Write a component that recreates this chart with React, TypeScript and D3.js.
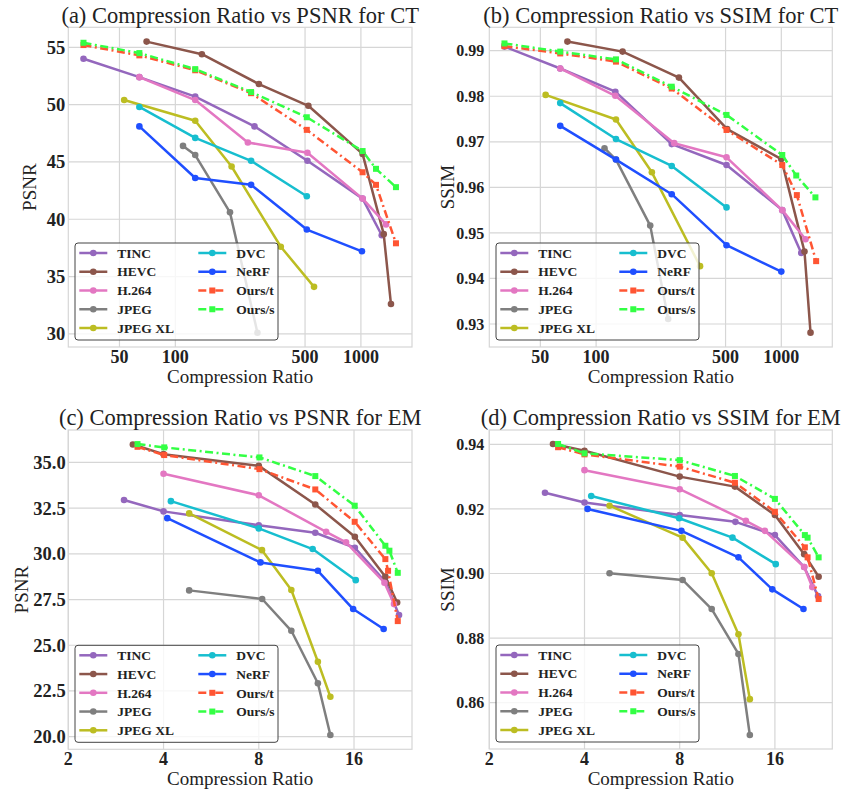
import React from "react";
import * as d3 from "d3";

type Pt = [number, number];

const METHODS = ["TINC", "HEVC", "H.264", "JPEG", "JPEG XL", "DVC", "NeRF", "Ours/t", "Ours/s"];
const COLORS = ["#9467bd", "#8c564b", "#e377c2", "#7f7f7f", "#bcbd22", "#17becf", "#1f4fff", "#ff5533", "#33ff44"];
const OURS = [false, false, false, false, false, false, false, true, true];

// (a) CT: compression ratio vs PSNR
const ctPsnr: Pt[][] = [
  [[32, 54.0], [64, 52.4], [128, 50.7], [267, 48.1], [515, 45.1], [1021, 41.8], [1295, 38.6]],
  [[70, 55.5], [139, 54.4], [282, 51.8], [521, 49.9], [1021, 45.7], [1327, 38.7], [1452, 32.6]],
  [[64, 52.4], [128, 50.4], [246, 46.7], [515, 45.8], [1021, 41.8], [1366, 39.55]],
  [[110, 46.4], [128, 45.6], [197, 40.6], [277, 30.1]],
  [[53, 50.4], [128, 48.6], [201, 44.6], [370, 37.6], [559, 34.1]],
  [[64, 49.8], [128, 47.1], [256, 45.1], [511, 42.0]],
  [[64, 48.1], [128, 43.6], [256, 43.0], [511, 39.1], [1013, 37.2]],
  [[32, 55.2], [64, 54.3], [128, 53.0], [256, 51.0], [511, 47.8], [1021, 44.1], [1206, 43.0], [1545, 37.9]],
  [[32, 55.4], [64, 54.5], [128, 53.1], [256, 51.1], [511, 48.9], [1021, 45.95], [1206, 44.4], [1545, 42.8]],
];

// (b) CT: compression ratio vs SSIM
const ctSsim: Pt[][] = [
  [[32, 0.9909], [64, 0.9861], [127, 0.981], [256, 0.9695], [506, 0.9649], [1012, 0.955], [1281, 0.9456]],
  [[70, 0.992], [139, 0.9898], [280, 0.9841], [510, 0.9728], [1000, 0.9662], [1334, 0.9459], [1438, 0.9281]],
  [[64, 0.9861], [127, 0.9801], [264, 0.9697], [506, 0.9666], [1012, 0.955], [1351, 0.9486]],
  [[111, 0.9686], [128, 0.9661], [196, 0.9516], [245, 0.9311]],
  [[53.4, 0.9803], [128, 0.9749], [200, 0.9633], [364, 0.9427]],
  [[64, 0.9785], [128, 0.9706], [256, 0.9647], [506, 0.9556]],
  [[64, 0.9735], [128, 0.9661], [256, 0.9585], [506, 0.9473], [1000, 0.9415]],
  [[32, 0.991], [64, 0.9894], [128, 0.9876], [256, 0.9817], [506, 0.9726], [1012, 0.9649], [1213, 0.9583], [1542, 0.9438]],
  [[32, 0.9916], [64, 0.9898], [128, 0.9881], [256, 0.9821], [506, 0.9759], [1012, 0.9671], [1204, 0.9626], [1528, 0.9578]],
];

// (c) EM: compression ratio vs PSNR
const emPsnr: Pt[][] = [
  [[3.0, 32.94], [4.0, 32.32], [8.0, 31.56], [12.07, 31.15], [16.1, 30.33], [20.1, 28.47], [22.2, 26.65]],
  [[3.2, 35.98], [4.0, 35.45], [8.0, 34.81], [12.07, 32.7], [16.1, 30.93], [20.1, 28.75], [21.9, 27.34]],
  [[4.0, 34.38], [8.0, 33.2], [13.06, 31.2], [15.1, 30.63], [19.97, 28.42], [21.4, 27.25]],
  [[4.82, 28.0], [8.2, 27.53], [10.14, 25.79], [12.3, 22.92], [13.47, 20.09]],
  [[4.82, 32.21], [8.19, 30.2], [10.14, 28.02], [12.3, 24.1], [13.47, 22.18]],
  [[4.22, 32.88], [8.0, 31.39], [11.84, 30.26], [16.2, 28.56]],
  [[4.11, 31.95], [8.1, 29.53], [12.3, 29.07], [15.9, 26.98], [19.85, 25.89]],
  [[3.31, 35.85], [4.02, 35.4], [8.04, 34.63], [12.07, 33.52], [16.08, 31.75], [20.1, 29.71], [20.5, 29.07], [22.0, 26.32]],
  [[3.31, 36.0], [4.02, 35.82], [8.04, 35.27], [12.07, 34.25], [16.08, 32.63], [20.1, 30.44], [20.7, 30.17], [22.0, 28.96]],
];

// (d) EM: compression ratio vs SSIM
const emSsim: Pt[][] = [
  [[3.0, 0.925], [4.0, 0.922], [8.0, 0.9181], [12.0, 0.916], [16.0, 0.9119], [19.8, 0.902], [21.9, 0.893]],
  [[3.18, 0.9401], [4.0, 0.938], [8.0, 0.93], [11.96, 0.9269], [16.0, 0.9181], [19.8, 0.906], [22.0, 0.899]],
  [[4.0, 0.932], [8.0, 0.9261], [12.95, 0.9163], [14.87, 0.9132], [19.8, 0.902], [21.0, 0.8958]],
  [[4.8, 0.9001], [8.17, 0.898], [10.1, 0.889], [12.27, 0.8751], [13.33, 0.85]],
  [[4.8, 0.921], [8.17, 0.9111], [10.1, 0.9001], [12.27, 0.8812], [13.33, 0.8611]],
  [[4.2, 0.924], [7.97, 0.9171], [11.75, 0.9111], [16.1, 0.9029]],
  [[4.09, 0.92], [8.1, 0.9132], [12.27, 0.905], [15.7, 0.8951], [19.7, 0.889]],
  [[3.3, 0.9391], [4.0, 0.9369], [8.0, 0.9331], [11.96, 0.9281], [16.0, 0.9191], [19.9, 0.9081], [20.3, 0.905], [22.0, 0.8921]],
  [[3.3, 0.9401], [4.0, 0.9372], [8.0, 0.9351], [11.96, 0.9302], [16.0, 0.9231], [19.9, 0.9119], [20.3, 0.9111], [22.0, 0.905]],
];

const ctXTicks = [50, 100, 500, 1000];
const emXTicks = [2, 4, 8, 16];
const ctPsnrTicks = [30, 35, 40, 45, 50, 55];
const ctSsimTicks = [0.93, 0.94, 0.95, 0.96, 0.97, 0.98, 0.99];
const emPsnrTicks = [20, 22.5, 25, 27.5, 30, 32.5, 35];
const emSsimTicks = [0.86, 0.88, 0.9, 0.92, 0.94];

const TITLES = [
  "(a) Compression Ratio vs PSNR for CT",
  "(b) Compression Ratio vs SSIM for CT",
  "(c) Compression Ratio vs PSNR for EM",
  "(d) Compression Ratio vs SSIM for EM",
];

const FONT = "'Liberation Serif', 'Times New Roman', serif";
const TXT = "#222222";
const GRID = "#d6d6d6";

interface PanelProps {
  data: Pt[][];
  title: string;
  ylabel: string;
  xTicks: number[];
  yTicks: number[];
  yFmt: (v: number) => string;
  base: number;
  xDomain: [number, number];
  yDomain: [number, number];
  x0: number;
  x1: number;
  y0: number;
  y1: number;
  yTickFont: number;
  yTickGap: number;
  yLabelOff: number;
}

function Marker({ x, y, color, ours }: { x: number; y: number; color: string; ours: boolean }) {
  if (ours) return <rect x={x - 3} y={y - 3} width={6} height={6} fill={color} />;
  return <circle cx={x} cy={y} r={3.3} fill={color} />;
}

function Panel(p: PanelProps) {
  const xs = d3.scaleLog().base(p.base).domain(p.xDomain).range([p.x0, p.x1]);
  const ys = d3.scaleLinear().domain(p.yDomain).range([p.y1, p.y0]);
  const line = d3
    .line<Pt>()
    .x((d) => xs(d[0]))
    .y((d) => ys(d[1]));
  const cx = (p.x0 + p.x1) / 2;
  const cy = (p.y0 + p.y1) / 2;
  const lx = p.x0 + 6.7;
  const ly = p.y1 - 7 - 97;
  const dash = "8,3.5,2,3.5";
  return (
    <g>
      {p.xTicks.map((t) => (
        <line key={"gx" + t} x1={xs(t)} x2={xs(t)} y1={p.y0} y2={p.y1} stroke={GRID} strokeWidth={1.2} />
      ))}
      {p.yTicks.map((t) => (
        <line key={"gy" + t} x1={p.x0} x2={p.x1} y1={ys(t)} y2={ys(t)} stroke={GRID} strokeWidth={1.2} />
      ))}
      <rect x={p.x0} y={p.y0} width={p.x1 - p.x0} height={p.y1 - p.y0} fill="none" stroke={GRID} strokeWidth={1.2} />
      {p.data.map((s, i) => (
        <g key={"s" + i}>
          <path
            d={line(s) || ""}
            fill="none"
            stroke={COLORS[i]}
            strokeWidth={2.5}
            strokeDasharray={OURS[i] ? dash : undefined}
            strokeLinejoin="round"
          />
          {s.map((d, j) => (
            <Marker key={j} x={xs(d[0])} y={ys(d[1])} color={COLORS[i]} ours={OURS[i]} />
          ))}
        </g>
      ))}
      {p.xTicks.map((t) => (
        <text key={"tx" + t} x={xs(t)} y={p.y1 + 15.5} textAnchor="middle" fontFamily={FONT} fontWeight="bold" fontSize={18} fill={TXT}>
          {String(t)}
        </text>
      ))}
      {p.yTicks.map((t) => (
        <text key={"ty" + t} x={p.x0 - p.yTickGap} y={ys(t)} dy="0.35em" textAnchor="end" fontFamily={FONT} fontWeight="bold" fontSize={p.yTickFont} fill={TXT}>
          {p.yFmt(t)}
        </text>
      ))}
      <text x={cx} y={p.y1 + 35.5} textAnchor="middle" fontFamily={FONT} fontSize={19} fill={TXT}>
        Compression Ratio
      </text>
      <text
        transform={`translate(${p.x0 - p.yLabelOff},${cy}) rotate(-90)`}
        textAnchor="middle"
        fontFamily={FONT}
        fontSize={19}
        fill={TXT}
      >
        {p.ylabel}
      </text>
      <text x={cx} y={p.y0 - 4.7} textAnchor="middle" fontFamily={FONT} fontSize={22.5} fill={TXT}>
        {p.title}
      </text>
      <g transform={`translate(${lx},${ly})`}>
        <rect x={0} y={0} width={203} height={97} rx={3} fill="white" fillOpacity={0.8} stroke="#444" strokeWidth={1} />
        {METHODS.map((m, i) => {
          const col = i < 5 ? 0 : 1;
          const row = i < 5 ? i : i - 5;
          const hx = col === 0 ? 4.3 : 123.3;
          const yy = 10 + row * 18.75;
          return (
            <g key={"l" + i}>
              <line
                x1={hx}
                x2={hx + 28}
                y1={yy}
                y2={yy}
                stroke={COLORS[i]}
                strokeWidth={2.5}
                strokeDasharray={OURS[i] ? dash : undefined}
              />
              <Marker x={hx + 14} y={yy} color={COLORS[i]} ours={OURS[i]} />
              <text x={hx + 38} y={yy} dy="0.35em" fontFamily={FONT} fontWeight="bold" fontSize={13.5} fill={TXT}>
                {m}
              </text>
            </g>
          );
        })}
      </g>
    </g>
  );
}

export default function App() {
  const f0 = (v: number) => String(v);
  const f2 = (v: number) => v.toFixed(2);
  const f1 = (v: number) => v.toFixed(1);
  return (
    <svg width={846} height={789} style={{ position: "absolute", left: 0, top: 0, background: "white" }}>
      <rect width={846} height={789} fill="white" />
      <Panel data={ctPsnr} title={TITLES[0]} ylabel="PSNR" xTicks={ctXTicks} yTicks={ctPsnrTicks} yFmt={f0} base={10}
        xDomain={[26.5, 1885]} yDomain={[28.85, 56.75]} x0={68.3} x1={412} y0={27.3} y1={347}
        yTickFont={18.5} yTickGap={3} yLabelOff={32} />
      <Panel data={ctSsim} title={TITLES[1]} ylabel="SSIM" xTicks={ctXTicks} yTicks={ctSsimTicks} yFmt={f2} base={10}
        xDomain={[26.5, 1885]} yDomain={[0.92495, 0.99514]} x0={489.3} x1={832.3} y0={27.3} y1={347}
        yTickFont={16} yTickGap={5} yLabelOff={35} />
      <Panel data={emPsnr} title={TITLES[2]} ylabel="PSNR" xTicks={emXTicks} yTicks={emPsnrTicks} yFmt={f1} base={2}
        xDomain={[2, 24.4]} yDomain={[19.31, 36.77]} x0={68.3} x1={412} y0={430} y1={749.3}
        yTickFont={18.5} yTickGap={2.6} yLabelOff={40} />
      <Panel data={emSsim} title={TITLES[3]} ylabel="SSIM" xTicks={emXTicks} yTicks={emSsimTicks} yFmt={f2} base={2}
        xDomain={[2, 24.3]} yDomain={[0.84567, 0.94443]} x0={489.3} x1={832.3} y0={430} y1={749}
        yTickFont={16} yTickGap={5} yLabelOff={35} />
    </svg>
  );
}
